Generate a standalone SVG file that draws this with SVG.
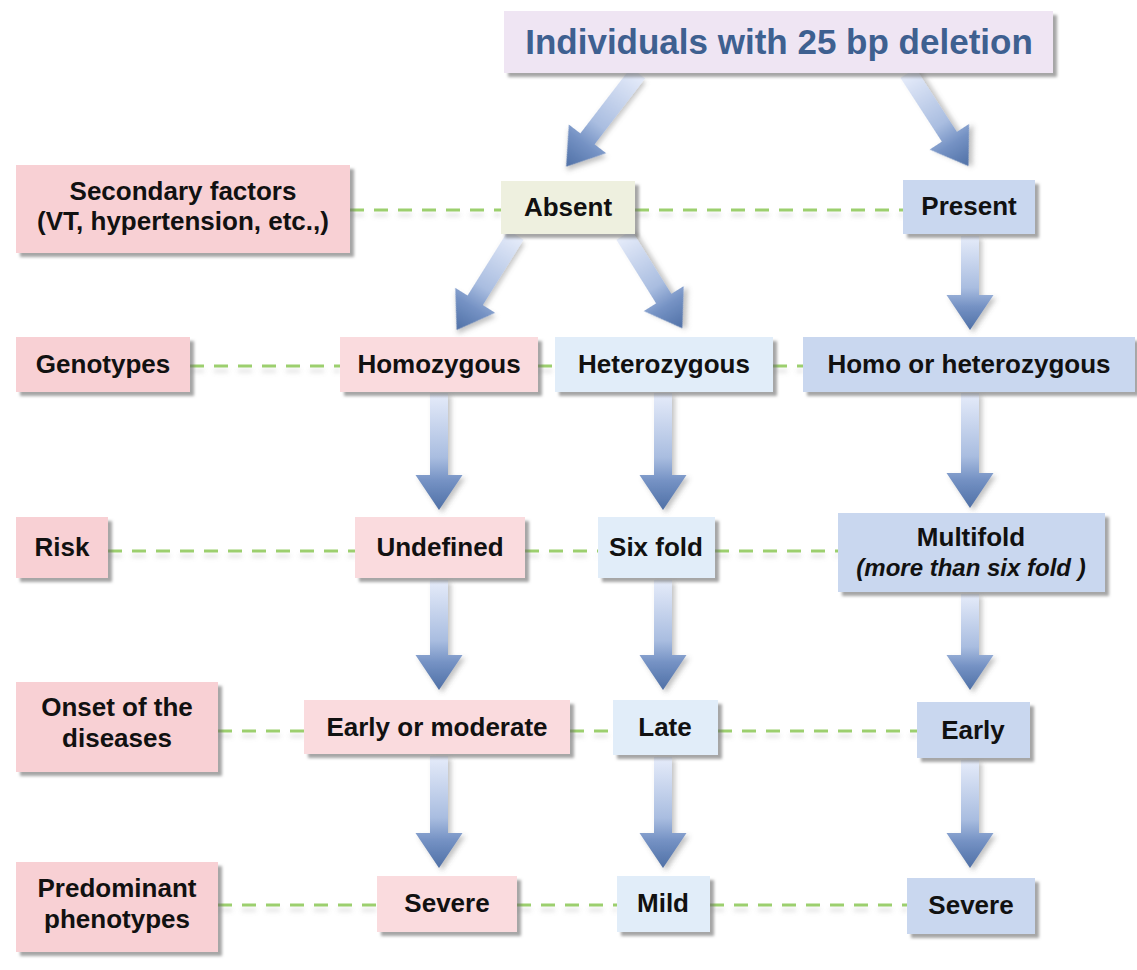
<svg xmlns="http://www.w3.org/2000/svg" width="1137" height="970" viewBox="0 0 1137 970">
<defs>
<linearGradient id="ag" x1="0" y1="0" x2="0" y2="1">
<stop offset="0" stop-color="#e6ecfa"/>
<stop offset="0.55" stop-color="#a9bde0"/>
<stop offset="0.75" stop-color="#7592c4"/>
<stop offset="1" stop-color="#4f70a6"/>
</linearGradient>
<filter id="bs" x="-10%" y="-20%" width="130%" height="150%">
<feDropShadow dx="4" dy="4" stdDeviation="1.8" flood-color="#6a6a6a" flood-opacity="0.6"/>
</filter>
<filter id="as" x="-40%" y="-10%" width="180%" height="130%">
<feDropShadow dx="3" dy="3" stdDeviation="2.5" flood-color="#555" flood-opacity="0.35"/>
</filter>
<filter id="ls" x="-5%" y="-200%" width="110%" height="600%">
<feDropShadow dx="0" dy="5" stdDeviation="2" flood-color="#999" flood-opacity="0.3"/>
</filter>
</defs>
<style>
.t{font-family:"Liberation Sans",Arial,sans-serif;font-weight:bold;font-size:26px;fill:#111;text-anchor:middle}
.ti{font-style:italic;font-size:24px}
.h{font-family:"Liberation Sans",Arial,sans-serif;font-weight:bold;font-size:35px;fill:#3e6090;text-anchor:middle}
.lab{fill:#f8d0d4;filter:url(#bs)}
.pk{fill:#fadbde;filter:url(#bs)}
.ab{fill:#eef0df;filter:url(#bs)}
.lb{fill:#e1edf9;filter:url(#bs)}
.pb{fill:#c9d7ef;filter:url(#bs)}
.top{fill:#efe5f3;filter:url(#bs)}
.d{stroke:#9ccf6e;stroke-width:3;stroke-dasharray:14 10;fill:none}
.ar{fill:url(#ag);filter:url(#as)}
</style>
<rect width="1137" height="970" fill="#ffffff"/>

<g id="connectors">
<g id="dashes" filter="url(#ls)">
<path class="d" d="M350 210H501M635 210H903"/>
<path class="d" d="M190 366H340M538 366H555M773 366H803"/>
<path class="d" d="M108 551H355M525 551H598M715 551H838"/>
<path class="d" d="M218 731H304M570 731H613M718 731H917"/>
<path class="d" d="M218 905H377M517 905H617M710 905H907"/>
</g>
<g id="arrows">
<path class="ar" transform="translate(638 73) rotate(37.5)" d="M-9 0H9V83H23.5L0 118L-23.5 83H-9Z"/>
<path class="ar" transform="translate(908 73) rotate(-33)" d="M-9 0H9V76H23.5L0 111L-23.5 76H-9Z"/>
<path class="ar" transform="translate(516 235) rotate(32)" d="M-9 0H9V77H23.5L0 112L-23.5 77H-9Z"/>
<path class="ar" transform="translate(624 235) rotate(-32)" d="M-9 0H9V75H23.5L0 110L-23.5 75H-9Z"/>
<path class="ar" d="M961 236H979V295H993.5L970 330L946.5 295H961Z"/>
<path class="ar" d="M430 393H448V475H462.5L439 510L415.5 475H430Z"/>
<path class="ar" d="M654 393H672V475H686.5L663 510L639.5 475H654Z"/>
<path class="ar" d="M961 393H979V473H993.5L970 508L946.5 473H961Z"/>
<path class="ar" d="M430 580H448V655H462.5L439 690L415.5 655H430Z"/>
<path class="ar" d="M654 580H672V655H686.5L663 690L639.5 655H654Z"/>
<path class="ar" d="M961 594H979V655H993.5L970 690L946.5 655H961Z"/>
<path class="ar" d="M430 756H448V833H462.5L439 868L415.5 833H430Z"/>
<path class="ar" d="M654 757H672V833H686.5L663 868L639.5 833H654Z"/>
<path class="ar" d="M961 760H979V833H993.5L970 868L946.5 833H961Z"/>
</g>
</g>

<g id="n-top"><rect class="top" x="504" y="11" width="549" height="62"/><text class="h" x="779" y="54">Individuals with 25 bp deletion</text></g>

<g id="n-secondary"><rect class="lab" x="16" y="165" width="334" height="88"/><text class="t" x="183" y="200">Secondary factors</text><text class="t" x="183" y="230">(VT, hypertension, etc.,)</text></g>
<g id="n-absent"><rect class="ab" x="501" y="181" width="134" height="53"/><text class="t" x="568" y="216">Absent</text></g>
<g id="n-present"><rect class="pb" x="903" y="180" width="132" height="54"/><text class="t" x="969" y="215">Present</text></g>

<g id="n-genotypes"><rect class="lab" x="16" y="337" width="174" height="55"/><text class="t" x="103" y="373">Genotypes</text></g>
<g id="n-homo"><rect class="pk" x="340" y="337" width="198" height="55"/><text class="t" x="439" y="373">Homozygous</text></g>
<g id="n-hetero"><rect class="lb" x="555" y="337" width="218" height="55"/><text class="t" x="664" y="373">Heterozygous</text></g>
<g id="n-homohet"><rect class="pb" x="803" y="337" width="332" height="55"/><text class="t" x="969" y="373">Homo or heterozygous</text></g>

<g id="n-risk"><rect class="lab" x="16" y="517" width="92" height="61"/><text class="t" x="62" y="556">Risk</text></g>
<g id="n-undefined"><rect class="pk" x="355" y="517" width="170" height="61"/><text class="t" x="440" y="556">Undefined</text></g>
<g id="n-sixfold"><rect class="lb" x="598" y="517" width="117" height="61"/><text class="t" x="656" y="556">Six fold</text></g>
<g id="n-multifold"><rect class="pb" x="838" y="513" width="267" height="79"/><text class="t" x="971" y="546">Multifold</text><text class="t ti" x="971" y="576">(more than six fold )</text></g>

<g id="n-onset"><rect class="lab" x="16" y="682" width="202" height="90"/><text class="t" x="117" y="716">Onset of the</text><text class="t" x="117" y="747">diseases</text></g>
<g id="n-earlymod"><rect class="pk" x="304" y="700" width="266" height="54"/><text class="t" x="437" y="736">Early or moderate</text></g>
<g id="n-late"><rect class="lb" x="613" y="700" width="105" height="55"/><text class="t" x="665" y="736">Late</text></g>
<g id="n-early"><rect class="pb" x="917" y="702" width="113" height="56"/><text class="t" x="973" y="739">Early</text></g>

<g id="n-predominant"><rect class="lab" x="16" y="862" width="202" height="90"/><text class="t" x="117" y="897">Predominant</text><text class="t" x="117" y="928">phenotypes</text></g>
<g id="n-severe1"><rect class="pk" x="377" y="876" width="140" height="56"/><text class="t" x="447" y="912">Severe</text></g>
<g id="n-mild"><rect class="lb" x="617" y="876" width="93" height="56"/><text class="t" x="663" y="912">Mild</text></g>
<g id="n-severe2"><rect class="pb" x="907" y="878" width="128" height="56"/><text class="t" x="971" y="914">Severe</text></g>
</svg>
